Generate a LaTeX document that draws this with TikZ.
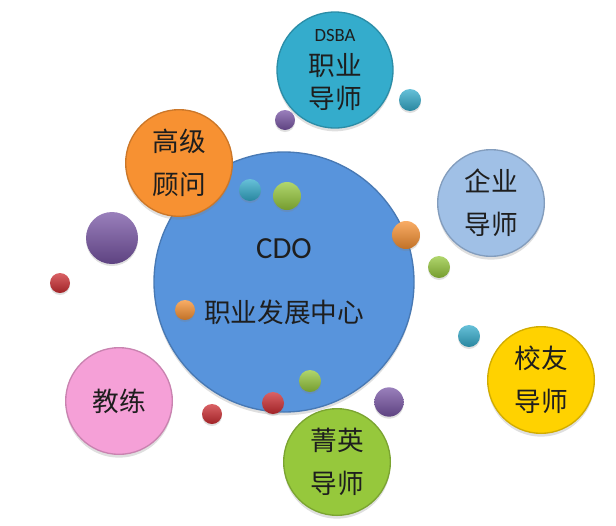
\documentclass[tikz,border=0pt]{standalone}
\usepackage{fontspec}
\setmainfont{Carlito}
\newfontfamily\cjk{Noto Sans CJK SC}
\usepackage{xcolor}
\usepackage{tikz}
\usetikzlibrary{shadows}
\definecolor{cdoblue}{RGB}{88,148,220}
\definecolor{tealball}{RGB}{52,172,204}
\definecolor{orangeball}{RGB}{247,145,50}
\definecolor{paleblue}{RGB}{160,192,230}
\definecolor{yellowball}{RGB}{255,210,0}
\definecolor{greenball}{RGB}{150,200,60}
\definecolor{pinkball}{RGB}{245,160,215}
\definecolor{purpleball}{RGB}{120,85,165}
\definecolor{redball}{RGB}{205,45,50}
\definecolor{inktext}{RGB}{30,30,30}

\begin{document}
\begin{tikzpicture}[x=0.75pt, y=-0.75pt,
  bubble/.style={circle, inner sep=0pt, minimum size=80pt,
    fill=#1, draw=#1!82!black, line width=1pt,
    drop shadow={opacity=0.25, shadow xshift=0pt, shadow yshift=-2.5pt},
    align=center, text=inktext, font=\cjk\fontsize{20}{32}\selectfont},
  dot/.style={circle, inner sep=0pt, minimum size=15pt, shade,
    top color=#1!75!white, middle color=#1, bottom color=#1!78!black,
    drop shadow={opacity=0.25, shadow xshift=0pt, shadow yshift=-1.5pt}}]
  \useasboundingbox (0,0) rectangle (616,525);
  % centre
  \node[bubble=cdoblue, minimum size=195pt, font=\fontsize{23}{48}\selectfont] (cdo) at (284,282)
    {CDO\\{\cjk\fontsize{20}{48}\selectfont 职业发展中心}};
  % mentors around
  \node[bubble=tealball, minimum size=87pt, font=\cjk\fontsize{20}{25}\selectfont] (dsba) at (335,70)
    {{\rmfamily\fontsize{14}{16}\selectfont DSBA}\\职业\\导师};
  \node[bubble=orangeball] (advisor) at (179,163) {高级\\顾问};
  \node[bubble=paleblue] (corp) at (491,203) {企业\\导师};
  \node[bubble=yellowball] (alumni) at (541,380) {校友\\导师};
  \node[bubble=greenball] (elite) at (337,462) {菁英\\导师};
  \node[bubble=pinkball] (coach) at (119,401) {教练};
  % small balls
  \node[dot=purpleball, minimum size=39pt] (p1) at (112,238) {};
  \node[dot=redball] (r1) at (60,283) {};
  \node[dot=tealball, minimum size=16.5pt] (t1) at (410,100) {};
  \node[dot=purpleball] (p2) at (285,120) {};
  \node[dot=tealball, minimum size=16.5pt] (t2) at (250,190) {};
  \node[dot=greenball, minimum size=21pt] (g1) at (287,196) {};
  \node[dot=orangeball, minimum size=21pt] (o1) at (406,235) {};
  \node[dot=greenball, minimum size=16.5pt] (g2) at (439,267) {};
  \node[dot=orangeball] (o2) at (185,310) {};
  \node[dot=tealball, minimum size=16.5pt] (t3) at (469,336) {};
  \node[dot=greenball, minimum size=16.5pt] (g3) at (310,381) {};
  \node[dot=redball, minimum size=16.5pt] (r2) at (273,403) {};
  \node[dot=redball] (r3) at (212,414) {};
  \node[dot=purpleball, minimum size=22pt] (p3) at (389,402) {};
\end{tikzpicture}
\end{document}
